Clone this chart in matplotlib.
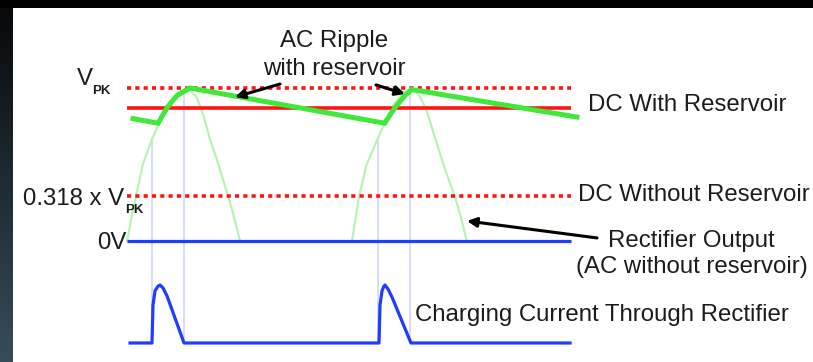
import numpy as np
import matplotlib
matplotlib.use("Agg")
import matplotlib.pyplot as plt
from matplotlib.patches import Rectangle

# ---------------- data (time in ms, voltage normalised to V_PK) ----------------
# half-wave rectifier output (light green humps)
H1_T = [0.0, 0.4, 0.8, 1.4, 2.2, 2.9, 3.7, 4.5, 5.4, 6.2, 6.8, 7.4, 8.0, 8.5, 9.0, 9.5, 10.05]
H1_V = [0.0, 0.15, 0.29, 0.50, 0.66, 0.78, 0.89, 0.97, 1.0, 0.94, 0.82, 0.66, 0.53, 0.41, 0.29, 0.16, 0.0]
H2_T = [20.0, 20.3, 20.62, 21.3, 22.3, 23.0, 23.7, 24.5, 25.35, 26.0, 26.6, 27.4, 28.0, 28.6, 29.15, 29.7, 30.2]
H2_V = [0.0, 0.14, 0.29, 0.50, 0.67, 0.79, 0.89, 0.97, 1.0, 0.95, 0.86, 0.67, 0.53, 0.40, 0.29, 0.15, 0.0]

# AC ripple with reservoir (bright green)
RIP_T = [0.53, 2.76, 3.64, 4.44, 5.6, 22.9, 23.8, 24.7, 25.3, 40.0]
RIP_V = [0.80, 0.77, 0.88, 0.95, 1.0, 0.77, 0.87, 0.95, 0.99, 0.81]

# charging current through rectifier (normalised)
CUR_T = [0.27, 2.22, 2.31, 2.49, 2.76, 2.93, 3.2, 3.56, 5.07,
         22.4, 22.49, 22.67, 22.84, 22.93, 23.2, 23.56, 25.24, 39.38]
CUR_I = [0, 0, 0.655, 0.9, 0.98, 1, 0.95, 0.81, 0,
         0, 0.655, 0.9, 0.98, 1, 0.93, 0.79, 0, 0]

# reference levels
V_PK = 1.0
V_DC_RES = 0.869
V_DC_NORES = 0.294
V_ZERO = 0.0
LINE_T = [0.0, 39.5]

# conduction-window markers
VLINE_T = [2.22, 5.07, 22.3, 25.16]
VLINE_TOP = [0.68, 1.0, 0.67, 1.0]
VLINE_BOTTOM = -0.667

# ---------------- figure ----------------
W, H = 813, 362
fig = plt.figure(figsize=(W / 100, H / 100), dpi=100, facecolor="white")

# dark frame: left gradient strip + top black strip
axg = fig.add_axes([0, 0, 13 / W, 1])
grad = np.linspace(0, 1, 256)[:, None]
top_c = np.array([6, 8, 10]) / 255
bot_c = np.array([55, 76, 90]) / 255
img = top_c[None, None, :] * (1 - grad[..., None]) + bot_c[None, None, :] * grad[..., None]
axg.imshow(img, aspect="auto", extent=[0, 1, 0, 1], origin="upper")
axg.set_axis_off()
fig.patches.append(Rectangle((0, 1 - 8 / H), 1, 8 / H, transform=fig.transFigure,
                             facecolor="black", edgecolor="none", zorder=10))

ax = fig.add_axes([13 / W, 0, 1 - 13 / W, 1 - 8 / H])
ax.set_axis_off()
ax.set_xlim(-11.289 + 13 / 11.25, 60.978)
ax.set_ylim(-0.79085, 1.57516 - 8 / 153)

ax2 = fig.add_axes(ax.get_position(), sharex=ax)
ax2.set_axis_off()
ax2.patch.set_alpha(0)
# current scale: I=0 at pixel row 343, I=1 at pixel row 285
ax_bottom_px = 362
ax_top_px = 8
def cur_lim():
    # map pixel rows (from top) to I
    span_px = ax_bottom_px - ax_top_px
    f0 = (ax_bottom_px - 343) / span_px
    f1 = (ax_bottom_px - 285) / span_px
    rng = 1 / (f1 - f0)
    a = -f0 * rng
    return a, a + rng
ax2.set_ylim(*cur_lim())

RED = "#ff1414"
GREEN = "#3fe83a"
LGREEN = "#b9f3b3"
BLUE = "#1f3cff"
VBLUE = "#cdd3f4"

# vertical markers
ax.vlines(VLINE_T, VLINE_BOTTOM, VLINE_TOP, color=VBLUE, lw=1.1, zorder=1)

# light green rectified humps
ax.plot(H1_T, H1_V, color=LGREEN, lw=1.6, zorder=2)
ax.plot(H2_T, H2_V, color=LGREEN, lw=1.6, zorder=2)

# reference lines
ax.plot(LINE_T, [V_PK, V_PK], color=RED, lw=2.6, ls=(0, (1.15, 1.15)),
        dash_capstyle="butt", zorder=3)
ax.plot(LINE_T, [V_DC_RES, V_DC_RES], color=RED, lw=2.6, solid_capstyle="butt", zorder=3)
ax.plot(LINE_T, [V_DC_NORES, V_DC_NORES], color=RED, lw=2.6, ls=(0, (1.15, 1.15)),
        dash_capstyle="butt", zorder=3)
ax.plot(LINE_T, [V_ZERO, V_ZERO], color=BLUE, lw=2.3, solid_capstyle="butt", zorder=4)

# ripple
ax.plot(RIP_T, RIP_V, color=GREEN, lw=3.6, solid_joinstyle="miter", zorder=5)

# charging current
ax2.plot(CUR_T, CUR_I, color=BLUE, lw=2.3, zorder=5)

# ---------------- text ----------------
FONT = ["Liberation Sans", "DejaVu Sans"]
FS = 17.3
TC = "#1c1c1c"
def txt(x, y, s, **kw):
    d = dict(fontsize=FS, color=TC, family=FONT, va="baseline", ha="left")
    d.update(kw)
    ax.text(x, y, s, **d)

txt(18.4, 1.268, "AC Ripple", ha="center")
txt(18.4, 1.082, "with reservoir", ha="center")
txt(-4.44, 1.02, "V")
txt(-3.1, 0.96, "PK", fontsize=9.5, fontweight="bold")
txt(-9.27, 0.235, "0.318 x V")
txt(-0.18, 0.185, "PK", fontsize=9.5, fontweight="bold")
txt(-2.67, -0.052, "0V")
txt(40.98, 0.85, "DC With Reservoir")
txt(40.09, 0.261, "DC Without Reservoir")
txt(42.76, -0.036, "Rectifier Output")
txt(39.91, -0.211, "(AC without reservoir)")
txt(25.6, -0.523, "Charging Current Through Rectifier")

# ---------------- arrows ----------------
ARROWS = [((13.6, 1.026), (9.6, 0.941)),
          ((22.13, 1.02), (24.71, 0.961)),
          ((41.78, 0.02), (30.22, 0.131))]
for tail, head in ARROWS:
    ax.annotate("", xy=head, xytext=tail,
                arrowprops=dict(arrowstyle="-|>", color="black", lw=2.2,
                                mutation_scale=14, shrinkA=0, shrinkB=0),
                zorder=6)

fig.savefig("out.png", dpi=100, facecolor="white")
